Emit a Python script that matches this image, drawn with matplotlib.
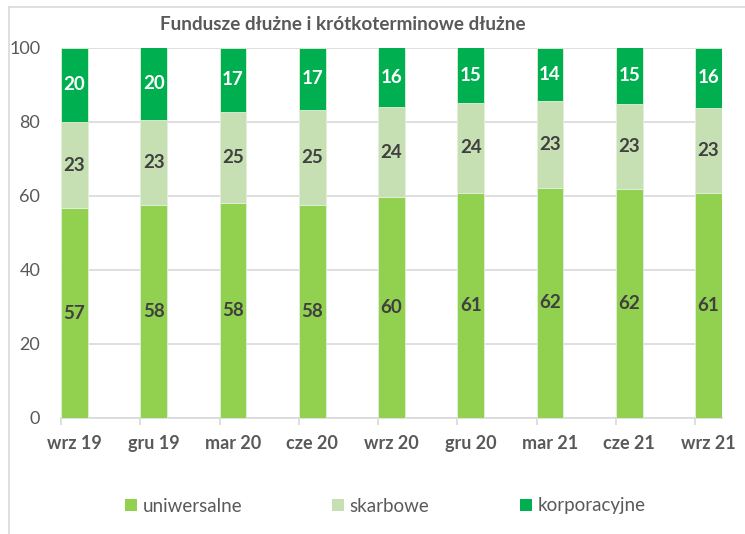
import matplotlib.pyplot as plt
import numpy as np
from matplotlib.patches import Patch
from matplotlib.lines import Line2D

# data (percent shares)
periods = ["wrz 19", "gru 19", "mar 20", "cze 20", "wrz 20", "gru 20", "mar 21", "cze 21", "wrz 21"]
uniwersalne = [56.6, 57.6, 57.9, 57.6, 59.6, 60.7, 62.2, 61.7, 60.7]
skarbowe = [23.2, 22.7, 24.7, 25.4, 24.3, 24.4, 23.4, 23.0, 22.9]
korporacyjne = [20.2, 19.7, 17.4, 17.0, 16.1, 14.9, 14.4, 15.3, 16.4]

series = [("uniwersalne", uniwersalne, "#92D050", "#404040"),
          ("skarbowe", skarbowe, "#C6E0B4", "#404040"),
          ("korporacyjne", korporacyjne, "#00B050", "white")]

plt.rcParams['font.family'] = ['Lato', 'DejaVu Sans']

fig = plt.figure(figsize=(7.45, 5.34), dpi=100)
ax = fig.add_axes([61/745, 1-418/534, (722-61)/745, (418-47.5)/534])

x = np.arange(len(periods))
w = 0.34
bottom = np.zeros(len(periods))
for name, vals, col, tcol in series:
    vals = np.array(vals)
    ax.bar(x, vals, w, bottom=bottom, color=col, edgecolor="#e2efda", linewidth=0.6, zorder=3)
    for xi, b, v in zip(x, bottom, vals):
        ax.text(xi, b + v/2, f"{v:.0f}", ha="center", va="center", fontsize=13.5,
                fontweight="bold", color=tcol, zorder=4)
    bottom += vals

ax.set_xlim(-w/2, len(periods) - 1 + w/2)
ax.set_ylim(0, 100)
ax.set_yticks([0, 20, 40, 60, 80, 100])
ax.tick_params(axis="y", length=0, labelsize=13, labelcolor="#595959", pad=15)
ax.grid(axis="y", color="#d9d9d9", linewidth=1.2, zorder=0)

# tick marks on the left edge of each bar, labels centred under bars
ax.set_xticks(x - w/2)
ax.set_xticklabels([])
ax.tick_params(axis="x", which="major", length=5, color="#d9d9d9", width=1.2)
ax.set_xticks(x, minor=True)
ax.set_xticklabels(periods, minor=True, fontsize=13, fontweight="bold", color="#595959")
ax.tick_params(axis="x", which="minor", length=0, pad=12)

for s in ["top", "right", "left"]:
    ax.spines[s].set_visible(False)
ax.spines["bottom"].set_color("#d9d9d9")
ax.spines["bottom"].set_linewidth(1.2)

fig.text(343/745, 1-24/534, "Fundusze dłużne i krótkoterminowe dłużne", ha="center", va="center",
         fontsize=13.6, fontweight="bold", color="#595959")

handles = [Patch(facecolor=c, edgecolor="none") for _, _, c, _ in series]
fig.legend(handles, [n for n, _, _, _ in series], loc="center", bbox_to_anchor=(385/745, 1-506/534),
           ncol=3, frameon=False, fontsize=13.5, labelcolor="#595959", handlelength=0.65,
           handleheight=0.65, handletextpad=0.3, columnspacing=4.8)

# outer chart border (left and top visible)
fig.add_artist(Line2D([9/745, 9/745], [0, 1-7/534], color="#d9d9d9", linewidth=1.2))
fig.add_artist(Line2D([9/745, 1], [1-7/534, 1-7/534], color="#d9d9d9", linewidth=1.2))

fig.savefig("out.png", dpi=100)
